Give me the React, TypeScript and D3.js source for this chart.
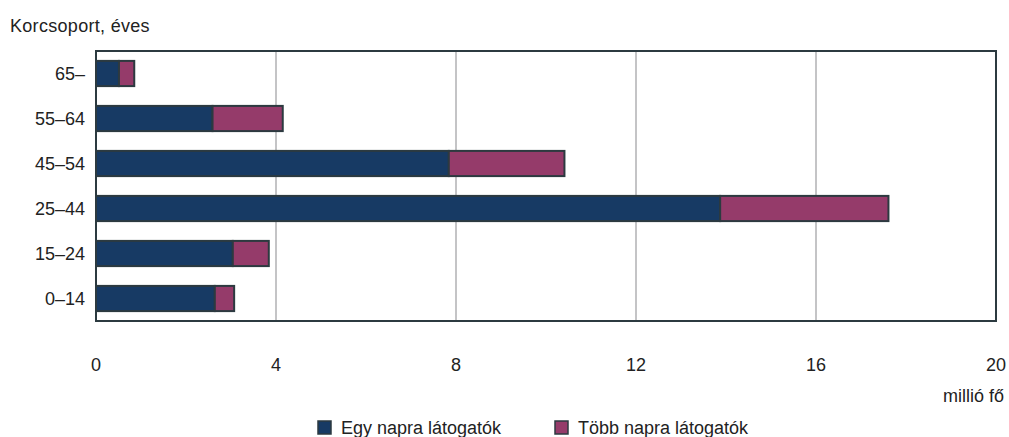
import React from "react";
import * as d3 from "d3";

const categories = ["65–", "55–64", "45–54", "25–44", "15–24", "0–14"];
const egyNapra = [0.51, 2.59, 7.84, 13.87, 3.04, 2.64];
const tobbNapra = [0.34, 1.56, 2.57, 3.74, 0.8, 0.43];
const xTicks = [0, 4, 8, 12, 16, 20];
const seriesNames = ["Egy napra látogatók", "Több napra látogatók"];
const colors = ["#173a64", "#953b6a"];

const W = 1009;
const H = 437;
const FONT = "'Liberation Sans', Arial, sans-serif";

export default function App() {
  const left = 96, right = 996, top = 51, bottom = 321;
  const x = d3.scaleLinear().domain([0, 20]).range([left, right]);
  const y = d3.scaleBand().domain(categories).range([top, bottom]).paddingInner(0.44).paddingOuter(0.22);
  const stroke = "#2c3a40";
  const fs = 18;
  return (
    <svg width={W} height={H} style={{ position: "absolute", left: 0, top: 0, fontFamily: FONT }}>
      <text x={10} y={32} fontSize={fs} fill="#222" letterSpacing={0.3}>Korcsoport, éves</text>
      {xTicks.slice(1, -1).map((t) => (
        <line key={t} x1={x(t)} x2={x(t)} y1={top} y2={bottom} stroke="#c4c4c6" strokeWidth={2} />
      ))}
      {categories.map((c, i) => {
        const y0 = y(c)!;
        const h = y.bandwidth();
        return (
          <g key={c}>
            <rect x={x(0)} y={y0} width={x(egyNapra[i]) - x(0)} height={h} fill={colors[0]} stroke={stroke} strokeWidth={2} />
            <rect x={x(egyNapra[i])} y={y0} width={x(egyNapra[i] + tobbNapra[i]) - x(egyNapra[i])} height={h} fill={colors[1]} stroke={stroke} strokeWidth={2} />
            <text x={85} y={y0 + h / 2} dy="0.36em" textAnchor="end" fontSize={fs} fill="#222">{c}</text>
          </g>
        );
      })}
      <rect x={left} y={top} width={right - left} height={bottom - top} fill="none" stroke={stroke} strokeWidth={2} />
      {xTicks.map((t) => (
        <text key={t} x={x(t)} y={371} textAnchor="middle" fontSize={fs} fill="#222">{t}</text>
      ))}
      <text x={1004} y={402} textAnchor="end" fontSize={fs} fill="#222">millió fő</text>
      {seriesNames.map((s, i) => {
        const lx = i === 0 ? 318 : 555;
        return (
          <g key={s}>
            <rect x={lx} y={421} width={13} height={13} fill={colors[i]} stroke={stroke} strokeWidth={1.5} />
            <text x={lx + 23} y={434} fontSize={fs} fill="#222">{s}</text>
          </g>
        );
      })}
    </svg>
  );
}
